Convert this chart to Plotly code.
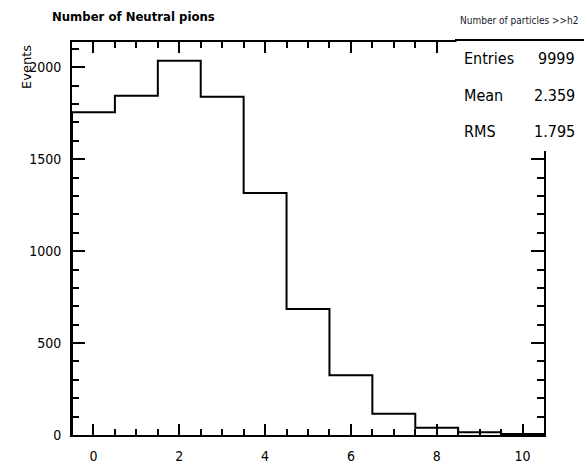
import plotly.graph_objects as go

# ---- data ----
bin_centers = [0, 1, 2, 3, 4, 5, 6, 7, 8, 9, 10]
counts = [1756, 1846, 2036, 1840, 1316, 685, 325, 115, 39, 15, 5]
bin_width = 1.0
x_ticks = [0, 2, 4, 6, 8, 10]
y_ticks = [0, 500, 1000, 1500, 2000]
title_text = "Number of Neutral pions"
y_title = "Events"
stats_header = "Number of particles >>h2"
stats_labels = ["Entries", "Mean", "RMS"]
stats_values = ["9999", "2.359", "1.795"]

# ---- layout geometry ----
W, H = 584, 465
ML, MR, MT, MB = 72, 40, 42, 30
PW, PH = W - ML - MR, H - MT - MB


def px(xp):
    return (xp - ML) / PW


def py(yp):
    return 1 - (yp - MT) / PH


# step outline built from bin data
edges_x = [c - bin_width / 2 for c in bin_centers] + [bin_centers[-1] + bin_width / 2]
step_x = [edges_x[0]] + edges_x + [edges_x[-1]]
step_y = [0] + counts + [counts[-1], 0]

FONT_N = "Liberation Sans Narrow, DejaVu Sans Condensed, Roboto Condensed, Liberation Sans, Arial, sans-serif"
FONT = "DejaVu Sans, Liberation Sans, Arial, sans-serif"

fig = go.Figure()
fig.add_trace(go.Scatter(
    x=step_x, y=step_y, mode="lines",
    line=dict(color="black", width=2, shape="hv"),
    hoverinfo="skip", showlegend=False,
))

ymax = max(counts) * 1.05

fig.update_layout(
    width=W, height=H,
    margin=dict(l=ML, r=MR, t=MT, b=MB, autoexpand=False),
    paper_bgcolor="white", plot_bgcolor="white",
    showlegend=False,
    xaxis=dict(
        range=[edges_x[0], edges_x[-1]], automargin=False,
        tickvals=x_ticks, ticktext=[str(v) for v in x_ticks],
        ticks="inside", ticklen=11, tickwidth=2, tickcolor="black",
        minor=dict(ticks="inside", ticklen=6, tickwidth=2, tickcolor="black", dtick=0.5, tick0=0),
        showline=True, linewidth=2, linecolor="black", mirror="allticks",
        showgrid=False, zeroline=False,
        tickfont=dict(family=FONT_N, size=14, color="black"),
        ticklabelstandoff=7,
    ),
    yaxis=dict(
        range=[0, ymax], automargin=False,
        tickvals=y_ticks, ticktext=[str(v) for v in y_ticks],
        ticks="inside", ticklen=13, tickwidth=2, tickcolor="black",
        minor=dict(ticks="inside", ticklen=7, tickwidth=2, tickcolor="black", dtick=100, tick0=0),
        showline=True, linewidth=2, linecolor="black", mirror="allticks",
        showgrid=False, zeroline=False,
        tickfont=dict(family=FONT_N, size=14, color="black"),
        ticklabelstandoff=6,
    ),
)

# stats box: white cover + top separator line
fig.add_shape(type="rect", xref="paper", yref="paper",
              x0=px(456.5), x1=px(W + 2), y0=py(151), y1=py(39),
              fillcolor="white", line=dict(width=0), layer="above")
fig.add_shape(type="line", xref="paper", yref="paper",
              x0=px(455), x1=px(W + 2), y0=py(40), y1=py(40),
              line=dict(color="black", width=2), layer="above")

annotations = []
annotations.append(dict(text="<b>" + title_text + "</b>", xref="paper", yref="paper",
                        x=px(50), y=py(17), xanchor="left", yanchor="middle",
                        showarrow=False, font=dict(family=FONT_N, size=13, color="black")))
annotations.append(dict(text=y_title, xref="paper", yref="paper",
                        x=px(27), y=py(43), xanchor="center", yanchor="top", textangle=-90,
                        showarrow=False, font=dict(family=FONT, size=13, color="black")))
annotations.append(dict(text=stats_header, xref="paper", yref="paper",
                        x=px(519), y=py(20), xanchor="center", yanchor="middle",
                        showarrow=False, font=dict(family=FONT_N, size=10, color="#1a1a2a")))
row_y = [58, 95, 132]
for lab, val, yy in zip(stats_labels, stats_values, row_y):
    annotations.append(dict(text=lab, xref="paper", yref="paper",
                            x=px(462), y=py(yy), xanchor="left", yanchor="middle",
                            showarrow=False, font=dict(family=FONT_N, size=16, color="black")))
    annotations.append(dict(text=val, xref="paper", yref="paper",
                            x=px(577), y=py(yy), xanchor="right", yanchor="middle",
                            showarrow=False, font=dict(family=FONT_N, size=16, color="black")))
fig.update_layout(annotations=annotations)

fig.write_html(
    "out.html",
    config={"displayModeBar": False},
    post_script="document.body.style.margin='0';document.body.style.overflow='hidden';",
)
